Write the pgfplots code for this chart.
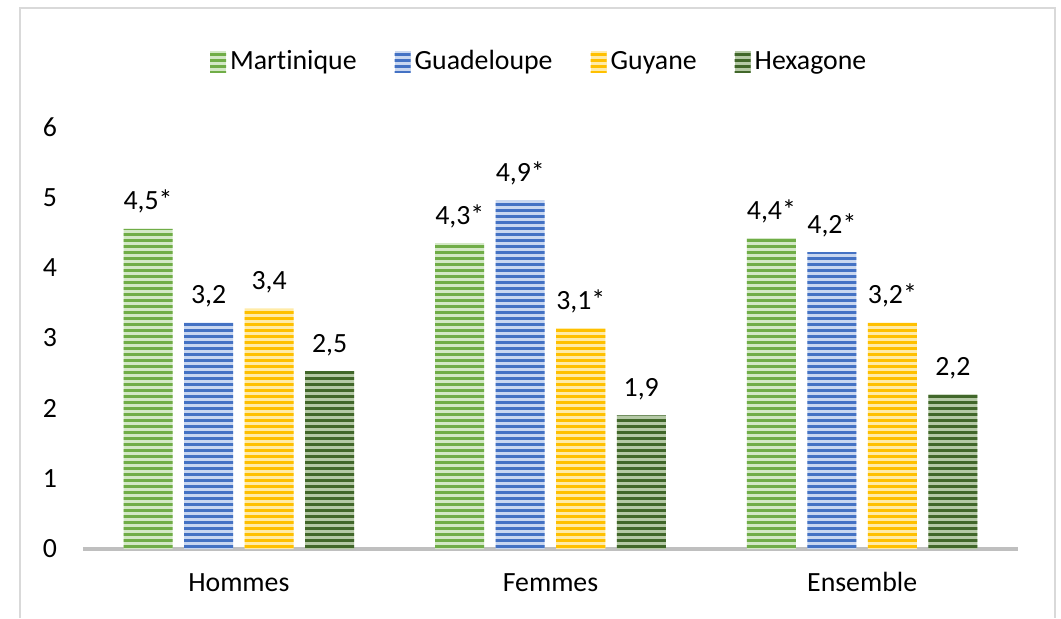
\documentclass[border=0pt]{standalone}
\usepackage{pgfplots}
\pgfplotsset{compat=1.18}
\usepackage{fontspec}
\setmainfont{Carlito}[Ligatures={NoCommon}]
\usetikzlibrary{patterns.meta}
\definecolor{cM}{HTML}{70AD47}\definecolor{cMl}{HTML}{D3E8C6}
\definecolor{cG}{HTML}{4472C4}\definecolor{cGl}{HTML}{C9D7F0}
\definecolor{cY}{HTML}{FFC000}\definecolor{cYl}{HTML}{FFEBA8}
\definecolor{cH}{HTML}{41672A}\definecolor{cHl}{HTML}{B5C9A6}
\definecolor{axg}{HTML}{BFBFBF}
\definecolor{brd}{HTML}{D9D9D9}
\newcommand{\cf}{\fontsize{13.9}{16}\selectfont}
\pgfplotstableread{
x y lab
0 4.55 {4,5*}
1 4.35 {4,3*}
2 4.42 {4,4*}
}\tM
\pgfplotstableread{
x y lab
0 3.22 {3,2}
1 4.96 {4,9*}
2 4.22 {4,2*}
}\tG
\pgfplotstableread{
x y lab
0 3.42 {3,4}
1 3.14 {3,1*}
2 3.22 {3,2*}
}\tY
\pgfplotstableread{
x y lab
0 2.53 {2,5}
1 1.90 {1,9}
2 2.20 {2,2}
}\tH
\begin{document}
\begin{tikzpicture}
\useasboundingbox (0,0) rectangle (530.5pt,309pt);
\draw[brd, line width=1pt] (10pt,0) -- (10pt,305pt) -- (527.5pt,305pt) -- (527.5pt,0);
\begin{axis}[
  at={(41.5pt,34.5pt)}, anchor=south west,
  scale only axis, width=467.5pt, height=211pt,
  xmin=-0.5, xmax=2.5, ymin=0, ymax=6,
  ybar=5.75pt, bar width=24.5pt,
  axis x line=bottom, axis y line=left,
  x axis line style={-, line width=2pt, axg},
  y axis line style={draw=none},
  major tick length=0pt,
  xtick={0,1,2}, xticklabels={Hommes,Femmes,Ensemble},
  ytick={0,1,...,6},
  /pgf/number format/assume math mode=true,
  tick label style={font=\cf, text=black},
  yticklabel style={xshift=-9.5pt},
  xticklabel style={yshift=-8pt, text height=9.5pt, text depth=3pt},
  point meta=explicit symbolic,
  nodes near coords={\pgfplotspointmeta},
  nodes near coords style={font=\cf, text=black, yshift=3pt, text height=9.5pt, text depth=3pt},
  legend columns=4,
  legend style={draw=none, font=\cf, at={(0.489,1.155)}, anchor=center,
    /tikz/every even column/.append style={column sep=17pt}},
  legend image code/.code={\path[#1, draw=none] (0pt,-5.5pt) rectangle (8pt,5.5pt);},
]
\addplot[draw=none, fill=cMl, postaction={pattern={Lines[angle=0,distance=3pt,line width=1.5pt]}, pattern color=cM}] table[x=x,y=y,meta=lab] {\tM};
\addplot[draw=none, fill=cGl, postaction={pattern={Lines[angle=0,distance=3pt,line width=1.5pt]}, pattern color=cG}] table[x=x,y=y,meta=lab] {\tG};
\addplot[draw=none, fill=cYl, postaction={pattern={Lines[angle=0,distance=3pt,line width=1.5pt]}, pattern color=cY}] table[x=x,y=y,meta=lab] {\tY};
\addplot[draw=none, fill=cHl, postaction={pattern={Lines[angle=0,distance=3pt,line width=1.5pt]}, pattern color=cH}] table[x=x,y=y,meta=lab] {\tH};
\legend{Martinique,Guadeloupe,Guyane,Hexagone}
\end{axis}
\end{tikzpicture}
\end{document}
